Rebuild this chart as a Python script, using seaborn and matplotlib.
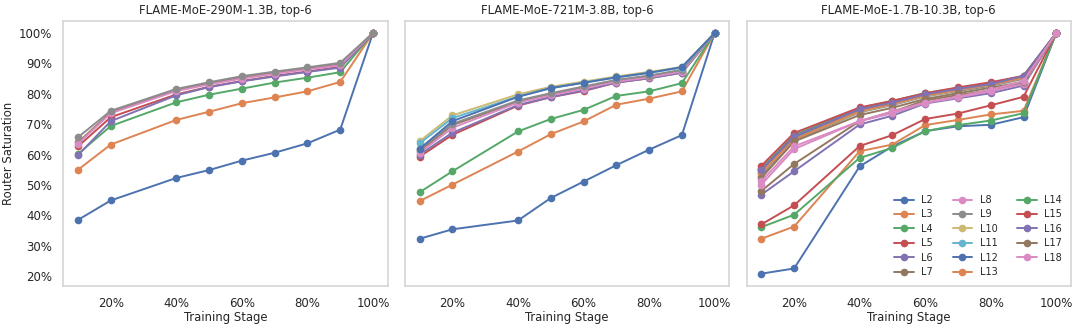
import numpy as np
import pandas as pd
import matplotlib
matplotlib.use("Agg")
import matplotlib.pyplot as plt
import seaborn as sns
from matplotlib.ticker import PercentFormatter

STAGES = [10, 20, 40, 50, 60, 70, 80, 90, 100]

TITLES = [
    "FLAME-MoE-290M-1.3B, top-6",
    "FLAME-MoE-721M-3.8B, top-6",
    "FLAME-MoE-1.7B-10.3B, top-6",
]

# router saturation (%) per layer, L2.. upwards
sat_290m = [
    [38.5, 44.9, 52.3, 54.9, 58.0, 60.6, 63.7, 68.2, 100],
    [55.0, 63.3, 71.4, 74.1, 76.9, 78.8, 80.8, 83.9, 100],
    [60.2, 69.4, 77.2, 79.7, 81.7, 83.7, 85.3, 87.1, 100],
    [62.7, 72.3, 79.8, 82.3, 84.2, 85.9, 87.3, 88.9, 100],
    [59.8, 71.0, 79.5, 82.2, 84.1, 85.7, 87.2, 88.6, 100],
    [64.0, 73.9, 81.2, 83.5, 85.4, 87.0, 88.3, 89.7, 100],
    [63.6, 73.6, 80.9, 83.1, 85.0, 86.6, 88.0, 89.4, 100],
    [65.7, 74.4, 81.6, 83.8, 85.8, 87.3, 88.7, 90.2, 100],
]

sat_721m = [
    [32.3, 35.4, 38.3, 45.7, 51.1, 56.5, 61.6, 66.4, 100],
    [44.7, 50.1, 61.0, 66.7, 70.9, 76.4, 78.4, 80.8, 100],
    [47.6, 54.5, 67.6, 71.7, 74.7, 79.3, 80.8, 83.5, 100],
    [59.3, 66.5, 76.1, 78.9, 80.9, 83.7, 85.1, 87.0, 100],
    [60.0, 67.2, 76.3, 78.9, 81.1, 83.7, 85.1, 86.9, 100],
    [61.1, 69.7, 77.4, 79.8, 82.0, 84.2, 85.6, 87.5, 100],
    [60.6, 68.8, 77.1, 79.5, 81.7, 84.0, 85.4, 87.3, 100],
    [61.7, 70.1, 77.8, 80.2, 82.4, 84.6, 86.0, 87.9, 100],
    [64.4, 72.9, 79.8, 82.3, 84.0, 85.7, 87.2, 88.8, 100],
    [63.7, 72.0, 79.1, 81.8, 83.7, 85.4, 86.9, 88.6, 100],
    [61.9, 71.0, 79.0, 81.9, 83.6, 85.4, 86.9, 88.8, 100],
]

sat_1_7b = [
    [20.8, 22.5, 56.1, 62.7, 67.7, 69.3, 69.8, 72.3, 100],
    [32.3, 36.3, 61.1, 63.3, 69.7, 71.4, 73.2, 74.4, 100],
    [36.1, 40.2, 58.9, 62.2, 67.7, 69.7, 71.2, 73.6, 100],
    [37.0, 43.3, 62.8, 66.4, 71.7, 73.5, 76.2, 79.0, 100],
    [46.8, 54.5, 69.9, 72.8, 76.8, 78.5, 80.2, 82.7, 100],
    [48.0, 56.9, 71.0, 74.1, 77.8, 79.6, 81.2, 83.4, 100],
    [50.1, 61.8, 71.0, 73.6, 77.0, 78.8, 80.8, 83.3, 100],
    [53.1, 64.6, 73.9, 76.3, 79.1, 80.9, 82.6, 84.9, 100],
    [53.9, 65.0, 74.1, 76.6, 79.3, 81.2, 83.0, 85.3, 100],
    [54.6, 65.2, 74.5, 76.9, 79.7, 81.4, 83.2, 85.5, 100],
    [55.1, 65.8, 74.9, 77.1, 79.9, 81.7, 83.4, 85.8, 100],
    [54.0, 65.0, 74.3, 76.7, 79.4, 81.3, 83.0, 85.3, 100],
    [55.4, 66.4, 75.3, 77.6, 80.2, 81.9, 83.5, 85.9, 100],
    [56.3, 67.1, 75.5, 77.7, 80.2, 82.1, 83.8, 85.9, 100],
    [55.0, 66.0, 74.9, 77.1, 79.8, 81.6, 83.2, 85.9, 100],
    [52.3, 64.3, 73.0, 75.4, 78.3, 80.2, 82.0, 83.9, 100],
    [51.2, 62.7, 71.0, 74.2, 77.1, 79.1, 81.3, 84.2, 100],
]

X_TICKS = [20, 40, 60, 80, 100]
Y_TICKS = [20, 30, 40, 50, 60, 70, 80, 90, 100]

sns.set_theme(style="whitegrid", palette="deep")
plt.rcParams["font.size"] = 8

fig, axes = plt.subplots(1, 3, figsize=(10.8, 3.28), dpi=100, sharey=True)
fig.subplots_adjust(left=0.0586, right=0.9917, top=0.936, bottom=0.129, wspace=0.053)


def to_long(rows):
    recs = []
    for i, vals in enumerate(rows):
        for s, v in zip(STAGES, vals):
            recs.append({"stage": s, "sat": v, "layer": f"L{i + 2}"})
    return pd.DataFrame(recs)


for ax, rows, title in zip(axes, [sat_290m, sat_721m, sat_1_7b], TITLES):
    df = to_long(rows)
    sns.lineplot(
        data=df,
        x="stage",
        y="sat",
        hue="layer",
        palette=sns.color_palette("deep", len(rows)),
        marker="o",
        markersize=5.5,
        markeredgewidth=0,
        linewidth=1.4,
        ax=ax,
        legend=(ax is axes[2]),
    )
    ax.grid(False)
    for sp in ax.spines.values():
        sp.set_color("#d5d5d5")
        sp.set_linewidth(1.2)
    ax.set_title(title, fontsize=8.4, pad=5)
    ax.set_xlabel("Training Stage", fontsize=8.4, labelpad=1)
    ax.set_ylabel("Router Saturation" if ax is axes[0] else "", fontsize=8.4, labelpad=3)
    ax.set_xticks(X_TICKS)
    ax.set_yticks(Y_TICKS)
    ax.xaxis.set_major_formatter(PercentFormatter(100, decimals=0))
    ax.yaxis.set_major_formatter(PercentFormatter(100, decimals=0))
    ax.tick_params(labelsize=8.5, pad=2)

axes[2].legend(
    loc="lower right",
    ncol=3,
    frameon=False,
    fontsize=7,
    handlelength=2.0,
    columnspacing=2.0,
    labelspacing=0.45,
    borderaxespad=0.5,
)

fig.savefig("out.png", dpi=100)
